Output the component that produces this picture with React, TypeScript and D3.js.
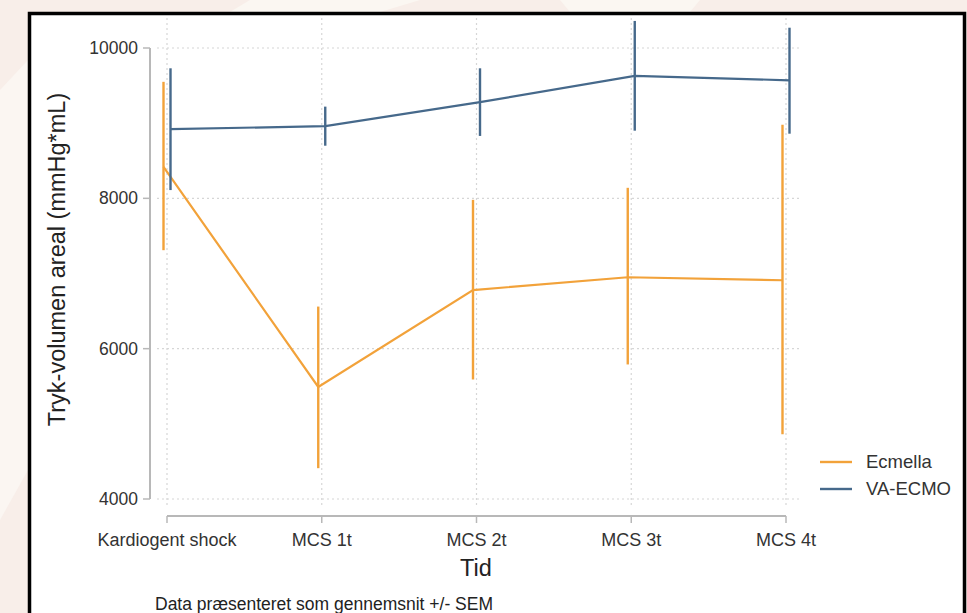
import React from "react";
import * as d3 from "d3";

// Time points on the x axis
const categories = ["Kardiogent shock", "MCS 1t", "MCS 2t", "MCS 3t", "MCS 4t"];

// Mean and SEM limits (mmHg*mL)
const ecmellaMean = [8420, 5490, 6780, 6950, 6910];
const ecmellaLow = [7310, 4410, 5590, 5790, 4860];
const ecmellaHigh = [9550, 6560, 7980, 8140, 8980];

const vaEcmoMean = [8920, 8960, 9280, 9630, 9570];
const vaEcmoLow = [8110, 8700, 8830, 8900, 8860];
const vaEcmoHigh = [9730, 9220, 9730, 10360, 10270];

const yTicks = [4000, 6000, 8000, 10000];

const seriesNames = ["Ecmella", "VA-ECMO"];
const seriesColors = ["#f2a23a", "#46698b"];

const W = 967;
const H = 613;
const FONT = "'Liberation Sans', Arial, Helvetica, sans-serif";

export default function App() {
  const x = d3.scalePoint<string>().domain(categories).range([167, 786]);
  const y = d3.scaleLinear().domain([4000, 10000]).range([499, 48]);

  const series = [
    { name: seriesNames[0], color: seriesColors[0], mean: ecmellaMean, lo: ecmellaLow, hi: ecmellaHigh, dx: -3.5 },
    { name: seriesNames[1], color: seriesColors[1], mean: vaEcmoMean, lo: vaEcmoLow, hi: vaEcmoHigh, dx: 3.5 },
  ];

  const line = d3
    .line<[number, number]>()
    .x((d) => d[0])
    .y((d) => d[1]);

  const plotTop = 18;
  const plotBottom = 508;
  const plotLeft = 157;
  const plotRight = 800;

  return (
    <svg
      width={W}
      height={H}
      style={{ position: "absolute", left: 0, top: 0, display: "block" }}
      fontFamily={FONT}
    >
      {/* page backdrop */}
      <rect x={0} y={0} width={W} height={H} fill="#f8eee9" />
      <polygon points="0,90 28,60 28,470 0,520" fill="#fbf6f2" />
      <polygon points="250,0 420,0 380,12 230,12" fill="#fbf7f2" />
      <polygon points="560,0 700,0 690,12 570,12" fill="#fbf7f2" />

      {/* framed graph area */}
      <rect x={29.5} y={13.5} width={935} height={640} fill="#ffffff" stroke="#000" strokeWidth={3.5} />

      {/* grid */}
      <g stroke="#d6d6d6" strokeWidth={1.2} strokeDasharray="2,3">
        {yTicks.map((t) => (
          <line key={"gy" + t} x1={plotLeft} x2={plotRight} y1={y(t)} y2={y(t)} />
        ))}
        {categories.map((c) => (
          <line key={"gx" + c} x1={x(c)!} x2={x(c)!} y1={plotTop} y2={plotBottom} />
        ))}
      </g>

      {/* y axis */}
      <line x1={150} x2={150} y1={y(10000)} y2={y(4000)} stroke="#b8b8b8" strokeWidth={2} />
      {yTicks.map((t) => (
        <g key={"ty" + t}>
          <line x1={143} x2={150} y1={y(t)} y2={y(t)} stroke="#b8b8b8" strokeWidth={1.5} />
          <text x={138} y={y(t)} dy="0.35em" textAnchor="end" fontSize={17.5} fill="#333">
            {t}
          </text>
        </g>
      ))}
      <text
        transform={`translate(65,${(y(10000) + y(4000)) / 2 - 14}) rotate(-90)`}
        textAnchor="middle"
        fontSize={23.5}
        fill="#222"
      >
        Tryk-volumen areal (mmHg*mL)
      </text>

      {/* x axis */}
      <line x1={x(categories[0])!} x2={x(categories[categories.length - 1])!} y1={516} y2={516} stroke="#b8b8b8" strokeWidth={2} />
      {categories.map((c) => (
        <g key={"tx" + c}>
          <line x1={x(c)!} x2={x(c)!} y1={516} y2={523} stroke="#b8b8b8" strokeWidth={1.5} />
          <text x={x(c)!} y={546} textAnchor="middle" fontSize={18} fill="#333">
            {c}
          </text>
        </g>
      ))}
      <text x={476} y={576} textAnchor="middle" fontSize={23.5} fill="#222">
        Tid
      </text>
      <text x={155} y={610} fontSize={17.5} fill="#222">
        Data præsenteret som gennemsnit +/- SEM
      </text>

      {/* series: connecting lines with SEM bars */}
      {series.map((s) => (
        <g key={s.name}>
          {categories.map((c, i) => (
            <line
              key={c}
              x1={x(c)! + s.dx}
              x2={x(c)! + s.dx}
              y1={y(s.lo[i])}
              y2={y(s.hi[i])}
              stroke={s.color}
              strokeWidth={2.4}
            />
          ))}
          <path
            d={line(categories.map((c, i) => [x(c)! + s.dx, y(s.mean[i])]))!}
            fill="none"
            stroke={s.color}
            strokeWidth={2.2}
          />
        </g>
      ))}

      {/* legend */}
      {series.map((s, i) => (
        <g key={"lg" + s.name} transform={`translate(0,${462 + i * 27})`}>
          <line x1={820} x2={852} y1={0} y2={0} stroke={s.color} strokeWidth={2.4} />
          <text x={866} y={0} dy="0.35em" fontSize={18.5} fill="#333">
            {s.name}
          </text>
        </g>
      ))}
    </svg>
  );
}
